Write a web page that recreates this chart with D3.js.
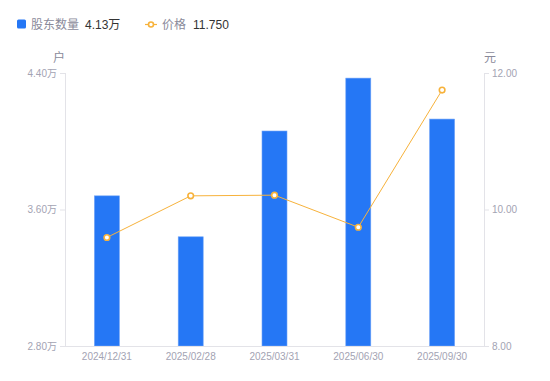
<!DOCTYPE html>
<html><head><meta charset="utf-8">
<script src="https://cdn.jsdelivr.net/npm/d3@7"></script>
<style>
body{margin:0;background:#fff;font-family:"Liberation Sans","Noto Sans CJK SC",sans-serif;}
svg text{font-family:"Liberation Sans","Noto Sans CJK SC",sans-serif;}
</style></head>
<body><svg id="c" width="550" height="381"></svg>
<script>
const categories = ["2024/12/31","2025/02/28","2025/03/31","2025/06/30","2025/09/30"];
const holders = [3.68, 3.44, 4.06, 4.37, 4.13];   // 万户
const prices = [9.59, 10.20, 10.21, 9.74, 11.75];  // 元
const leftTicks = [2.80, 3.60, 4.40];
const rightTicks = [8.00, 10.00, 12.00];

const svg = d3.select("#c");
const m = {l:65, r:484, t:73, b:346};
const x = d3.scaleBand().domain(categories).range([m.l, m.r]);
const yL = d3.scaleLinear().domain([2.8, 4.4]).range([m.b, m.t]);
const yR = d3.scaleLinear().domain([8, 12]).range([m.b, m.t]);
const axisCol = "#e3e3e8", tickText = "#a3a3b3";

// bars
const bw = 25;
svg.append("g").selectAll("rect").data(holders).join("rect")
  .attr("x", (d,i)=>x(categories[i]) + x.bandwidth()/2 - bw/2)
  .attr("y", d=>yL(d))
  .attr("width", bw)
  .attr("height", d=>m.b - yL(d))
  .attr("fill", "#2577f5")
  .attr("stroke", "#6fa3f7").attr("stroke-width", 0.6);

// axes
const gL = svg.append("g").attr("transform", `translate(${m.l},0)`)
  .call(d3.axisLeft(yL).tickValues(leftTicks).tickSize(5).tickPadding(3).tickFormat(d=>d3.format(".2f")(d)+"万"));
const gR = svg.append("g").attr("transform", `translate(${m.r},0)`)
  .call(d3.axisRight(yR).tickValues(rightTicks).tickSize(5).tickPadding(3).tickFormat(d3.format(".2f")));
const gB = svg.append("g").attr("transform", `translate(0,${m.b})`)
  .call(d3.axisBottom(x).tickSize(0).tickPadding(7));
[gL,gR,gB].forEach(g=>{
  g.attr("font-family", null);
  g.select(".domain").attr("stroke", axisCol);
  g.selectAll(".tick line").attr("stroke", axisCol);
  g.selectAll(".tick text").attr("fill", tickText).attr("font-size", 10);
});
gB.select(".domain").attr("d", `M${m.l},0.5H${m.r}`);
gL.select(".domain").attr("d", `M0.5,${m.t}V${m.b}`);
gR.select(".domain").attr("d", `M0.5,${m.t}V${m.b}`);

// line
const lineCol = "#f7b23b";
const line = d3.line().x((d,i)=>x(categories[i]) + x.bandwidth()/2).y(d=>yR(d));
svg.append("path").datum(prices).attr("d", line)
  .attr("fill","none").attr("stroke", lineCol).attr("stroke-width", 1);
svg.append("g").selectAll("circle").data(prices).join("circle")
  .attr("cx", (d,i)=>x(categories[i]) + x.bandwidth()/2)
  .attr("cy", d=>yR(d)).attr("r", 2.8)
  .attr("fill","#fff").attr("stroke", lineCol).attr("stroke-width", 1.6);

// unit labels
svg.append("text").attr("x", 59).attr("y", 62).attr("text-anchor","middle")
  .attr("fill", "#8a8a9a").attr("font-size", 12).text("户");
svg.append("text").attr("x", 490).attr("y", 62).attr("text-anchor","middle")
  .attr("fill", "#8a8a9a").attr("font-size", 12).text("元");

// legend
const lg = svg.append("g");
lg.append("rect").attr("x",17).attr("y",19.5).attr("width",9).attr("height",9).attr("rx",1.5).attr("fill","#2577f5");
lg.append("text").attr("x",31).attr("y",29).attr("font-size",12).attr("fill","#8a8a9a").text("股东数量");
lg.append("text").attr("x",85).attr("y",29).attr("font-size",12).attr("fill","#333").text(d3.format(".2f")(holders[4])+"万");
lg.append("line").attr("x1",145).attr("x2",157).attr("y1",24.5).attr("y2",24.5).attr("stroke",lineCol).attr("stroke-width",1.2);
lg.append("circle").attr("cx",151).attr("cy",24.5).attr("r",2.5).attr("fill","#fff").attr("stroke",lineCol).attr("stroke-width",1.6);
lg.append("text").attr("x",162).attr("y",29).attr("font-size",12).attr("fill","#8a8a9a").text("价格");
lg.append("text").attr("x",193).attr("y",29).attr("font-size",12).attr("fill","#333").text(d3.format(".3f")(prices[4]));
</script></body></html>
